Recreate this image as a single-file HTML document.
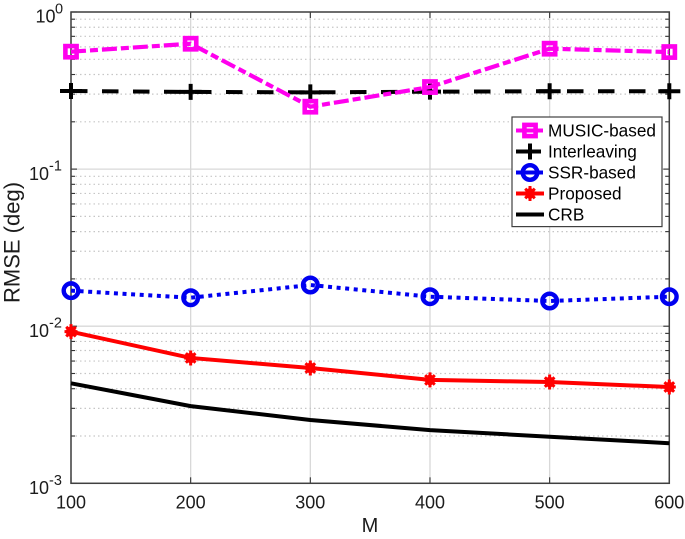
<!DOCTYPE html>
<html>
<head>
<meta charset="utf-8">
<style>
html,body{margin:0;padding:0;background:#fff;width:685px;height:539px;overflow:hidden}
svg{display:block;font-family:"Liberation Sans",sans-serif;fill:#1c1c1c;filter:blur(0.35px)}
</style>
</head>
<body>
<svg id="chart" width="685" height="539" viewBox="0 0 685 539" xmlns="http://www.w3.org/2000/svg"></svg>
<script>
const categories = [100, 200, 300, 400, 500, 600];
const musicValues = [0.559, 0.628, 0.2496, 0.333, 0.584, 0.556];
const interleavingValues = [0.314, 0.31, 0.308, 0.311, 0.313, 0.313];
const ssrValues = [0.01683, 0.01518, 0.01829, 0.01541, 0.01447, 0.01541];
const proposedValues = [0.00923, 0.00628, 0.00542, 0.00455, 0.00441, 0.0041];
const crbValues = [0.00433, 0.0031, 0.00253, 0.00218, 0.00198, 0.0018];
const yDecades = [0, -1, -2, -3];
const yMinorFactors = [2, 3, 4, 5, 6, 7, 8, 9];
const legendLabels = ['MUSIC-based', 'Interleaving', 'SSR-based', 'Proposed', 'CRB'];

const NS = 'http://www.w3.org/2000/svg';
const svg = document.getElementById('chart');
const L = 71, R = 669.3, T = 12, B = 483.3;
function xScale(v) { return L + (v - 100) / 500 * (R - L); }
function yScale(v) { return T + (0 - Math.log10(v)) / 3 * (B - T); }
function mk(tag, attrs, parent, text) {
  const e = document.createElementNS(NS, tag);
  for (const k in attrs) e.setAttribute(k, attrs[k]);
  if (text !== undefined) e.textContent = text;
  (parent || svg).appendChild(e);
  return e;
}
function group(name) {
  const g = mk('g', {});
  
  
  return g;
}

/* grid */
const grid = group('grid-lines');
categories.forEach(c => {
  mk('line', {x1: xScale(c), x2: xScale(c), y1: T, y2: B, stroke: '#d8d8d8', 'stroke-width': 1.3}, grid);
});
yDecades.forEach(d => {
  mk('line', {x1: L, x2: R, y1: yScale(Math.pow(10, d)), y2: yScale(Math.pow(10, d)), stroke: '#d8d8d8', 'stroke-width': 1.3}, grid);
  if (d > -3) yMinorFactors.forEach(f => {
    const y = yScale(f * Math.pow(10, d - 1));
    mk('line', {x1: L, x2: R, y1: y, y2: y, stroke: '#c6c6c6', 'stroke-width': 1.2, 'stroke-dasharray': '1.5 3'}, grid);
  });
});

/* ticks */
const ticks = group('axis-ticks');
categories.forEach(c => {
  const x = xScale(c);
  mk('line', {x1: x, x2: x, y1: T, y2: T + 6, stroke: '#333', 'stroke-width': 1.1}, ticks);
  mk('line', {x1: x, x2: x, y1: B, y2: B - 6, stroke: '#333', 'stroke-width': 1.1}, ticks);
});
yDecades.forEach(d => {
  const y = yScale(Math.pow(10, d));
  mk('line', {x1: L, x2: L + 6, y1: y, y2: y, stroke: '#333', 'stroke-width': 1.1}, ticks);
  mk('line', {x1: R, x2: R - 6, y1: y, y2: y, stroke: '#333', 'stroke-width': 1.1}, ticks);
  if (d > -3) yMinorFactors.forEach(f => {
    const ym = yScale(f * Math.pow(10, d - 1));
    mk('line', {x1: L, x2: L + 4, y1: ym, y2: ym, stroke: '#333', 'stroke-width': 1.1}, ticks);
    mk('line', {x1: R, x2: R - 4, y1: ym, y2: ym, stroke: '#333', 'stroke-width': 1.1}, ticks);
  });
});

/* axes box */
const box = mk('rect', {x: L, y: T, width: R - L, height: B - T, fill: 'none', stroke: '#404040', 'stroke-width': 1.5});



/* markers */
function marker(parent, type, x, y, color) {
  if (type === 'square') {
    mk('rect', {x: x - 5.6, y: y - 5.6, width: 11.2, height: 11.2, fill: 'none', stroke: color, 'stroke-width': 4.6}, parent);
  } else if (type === 'plus') {
    mk('path', {d: `M${x - 11} ${y}H${x + 11}M${x} ${y - 8}V${y + 8}`, fill: 'none', stroke: color, 'stroke-width': 4}, parent);
  } else if (type === 'circle') {
    mk('circle', {cx: x, cy: y, r: 7.3, fill: 'none', stroke: color, 'stroke-width': 4.4}, parent);
  } else if (type === 'star') {
    mk('path', {d: `M${x - 6.5} ${y}H${x + 6.5}M${x} ${y - 7.5}V${y + 7.5}M${x - 4.8} ${y - 4.8}L${x + 4.8} ${y + 4.8}M${x - 4.8} ${y + 4.8}L${x + 4.8} ${y - 4.8}`, fill: 'none', stroke: color, 'stroke-width': 3}, parent);
    mk('circle', {cx: x, cy: y, r: 5.2, fill: color}, parent);
  }
}

/* series */
const seriesList = [
  {name: 'crb', values: crbValues, color: '#000000', dash: '', marker: null, width: 4},
  {name: 'proposed', values: proposedValues, color: '#ff0000', dash: '', marker: 'star', width: 4},
  {name: 'ssr-based', values: ssrValues, color: '#0000f0', dash: '4 4.6', marker: 'circle', width: 4},
  {name: 'interleaving', values: interleavingValues, color: '#000000', dash: '16.5 14.5', marker: 'plus', width: 4},
  {name: 'music-based', values: musicValues, color: '#ff00ee', dash: '15 4 8 4', marker: 'square', width: 4.2}
];
seriesList.forEach(s => {
  const g = group('series-' + s.name);
  const pts = s.values.map((v, i) => xScale(categories[i]) + ',' + yScale(v)).join(' ');
  const attrs = {points: pts, fill: 'none', stroke: s.color, 'stroke-width': s.width};
  if (s.dash) attrs['stroke-dasharray'] = s.dash;
  mk('polyline', attrs, g);
  if (s.marker) s.values.forEach((v, i) => marker(g, s.marker, xScale(categories[i]), yScale(v), s.color));
});

/* x tick labels */
const xLabels = group('x-tick-labels');
categories.forEach(c => {
  mk('text', {x: xScale(c), y: 508.5, 'text-anchor': 'middle', 'font-size': 18}, xLabels, String(c));
});

/* y tick labels */
const yLabels = group('y-tick-labels');
yDecades.forEach(d => {
  const y = yScale(Math.pow(10, d));
  mk('text', {x: d === 0 ? 35.5 : 29, y: y + 10.7, 'font-size': 18}, yLabels, '10');
  mk('text', {x: d === 0 ? 55 : 49, y: y + 1.5, 'font-size': 14.5}, yLabels, String(d));
});

/* axis titles */
const xTitle = mk('text', {x: 370, y: 532, 'text-anchor': 'middle', 'font-size': 20}, svg, 'M');


const yTitle = mk('text', {x: 0, y: 0, transform: 'translate(19.5,242.5) rotate(-90)', 'text-anchor': 'middle', 'font-size': 22}, svg, 'RMSE (deg)');



/* legend */
const legend = group('legend');
mk('rect', {x: 512, y: 117, width: 150, height: 109.6, fill: '#fff', stroke: '#404040', 'stroke-width': 1.2}, legend);
const legendMarkers = ['square', 'plus', 'circle', 'star', null];
const legendColors = ['#ff00ee', '#000000', '#0000f0', '#ff0000', '#000000'];
const legendLineEnds = [543, 538, 543, 544, 544];
legendLabels.forEach((label, i) => {
  const y = 130.5 + i * 21;
  const g = mk('g', {}, legend);
  
  
  mk('line', {x1: 516, x2: legendLineEnds[i], y1: y, y2: y, stroke: legendColors[i], 'stroke-width': 4}, g);
  if (legendMarkers[i]) marker(g, legendMarkers[i], 530, y, legendColors[i]);
  mk('text', {x: 548, y: y + 6.2, 'font-size': 17.2, fill: '#000'}, g, label);
});
</script>
</body>
</html>
